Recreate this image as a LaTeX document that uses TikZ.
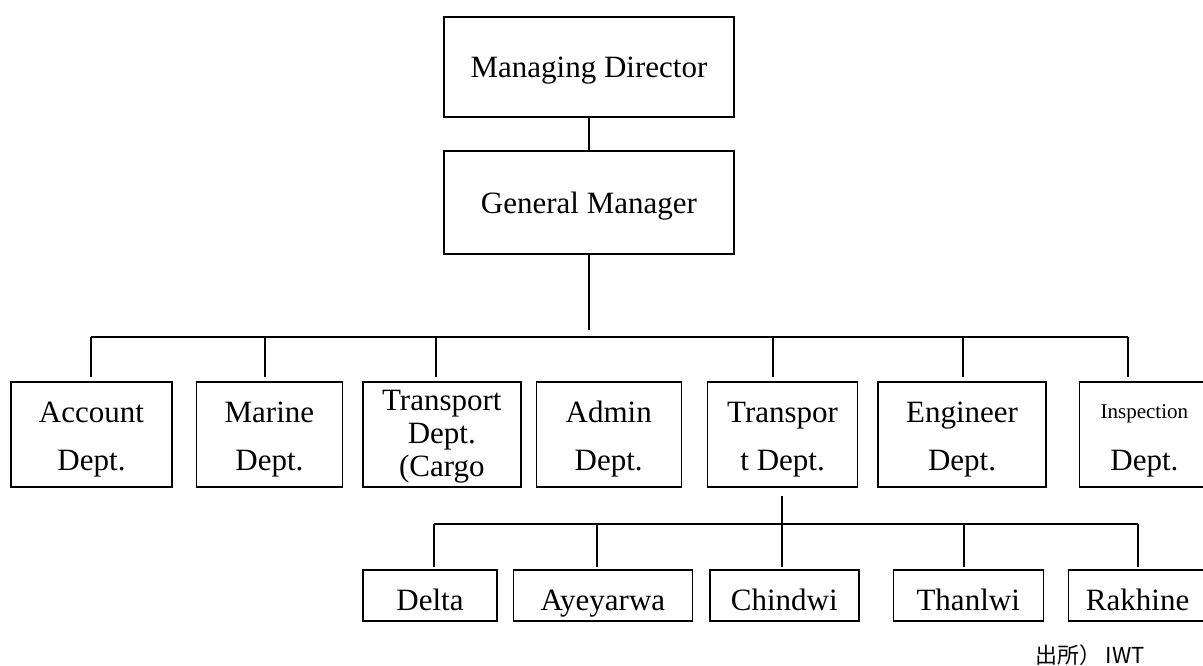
\documentclass[tikz,border=0pt]{standalone}
\usepackage{fontspec}
\setmainfont{Liberation Serif}
\newfontfamily\jpfont{Noto Sans CJK JP}
\usetikzlibrary{positioning}

\begin{document}
\begin{tikzpicture}[
    x=1pt, y=-1pt,
    box/.style={draw, line width=1.4pt, inner sep=0pt, align=center, minimum height=105pt, font=\fontsize{31}{48}\selectfont},
    dept/.style={box, text height=78pt, text depth=7pt},
    topbox/.style={box, minimum width=290pt, text height=28pt, text depth=7pt},
    subbox/.style={box, minimum height=51pt, text height=36pt, text depth=7pt},
    link/.style={line width=2.6pt},
    sublink/.style={line width=2pt}
]
\useasboundingbox (0,0) rectangle (1203,666);

  % Top of the chart
  \node[topbox, minimum height=100pt] (md) at (589,67) {Managing Director};
  \node[topbox, minimum height=103pt, text height=30pt] (gm) at (589,202.5) {General Manager};

  % Departments
  \node[dept, minimum width=161pt] (acct) at (91.5,434.5) {Account\\Dept.};
  \node[dept, minimum width=146pt, right=23pt of acct] (marine) {Marine\\Dept.};
  \node[dept, minimum width=158pt, right=19pt of marine, font=\fontsize{31}{33}\selectfont, text height=90pt] (cargo) {Transport\\Dept.\\(Cargo};
  \node[dept, minimum width=145pt, right=14pt of cargo] (admin) {Admin\\Dept.};
  \node[dept, minimum width=150pt, right=25pt of admin] (transp) {Transpor\\t Dept.};
  \node[dept, minimum width=168pt, right=19pt of transp] (eng) {Engineer\\Dept.};
  \node[dept, minimum width=130pt, right=32pt of eng] (insp) {{\fontsize{21}{25}\selectfont Inspection}\\[4pt]Dept.};

  % Branches under Transport Dept.
  \node[subbox, minimum width=134pt] (delta) at (430,595.5) {Delta};
  \node[subbox, minimum width=179pt, right=15pt of delta] (ayey) {Ayeyarwa};
  \node[subbox, minimum width=149pt, right=16pt of ayey] (chind) {Chindwi};
  \node[subbox, minimum width=150pt, right=33pt of chind] (than) {Thanlwi};
  \node[subbox, minimum width=138pt, right=24pt of than] (rakh) {Rakhine};

  % Source note
  \node[font=\jpfont\fontsize{22}{26}\selectfont] (src) at (1090,655) {出所） IWT};

  % Links, upper level
  \draw[link] (md) -- (gm);
  \coordinate (busl) at (91,337);
  \coordinate (busr) at (1128,337);
  \draw[link] (busl) -- (busr);
  \draw[link, shorten >=7pt] (gm.south) -- (gm.south |- busl);
  \foreach \tx/\n in {91/acct, 265/marine, 436/cargo, 773/transp, 963/eng, 1128/insp} {
    \coordinate (tap\n) at (\tx,337);
    \draw[link, shorten >=4pt] (tap\n) -- (tap\n |- \n.north);
  }

  % Links, lower level
  \coordinate (subl) at (434,524);
  \coordinate (subr) at (1138,524);
  \draw[sublink] (subl) -- (subr);
  \foreach \tx/\n in {434/delta, 597/ayey, 964/than} {
    \coordinate (tap\n) at (\tx,524);
    \draw[sublink, shorten >=2pt] (tap\n) -- (tap\n |- \n.north);
  }
  \draw[link, shorten >=2pt] (subr) -- (subr |- rakh.north);
  \coordinate (tapchind) at (782,524);
  \draw[link, shorten <=8pt, shorten >=2pt] (tapchind |- transp.south) -- (tapchind |- chind.north);

\end{tikzpicture}
\end{document}
